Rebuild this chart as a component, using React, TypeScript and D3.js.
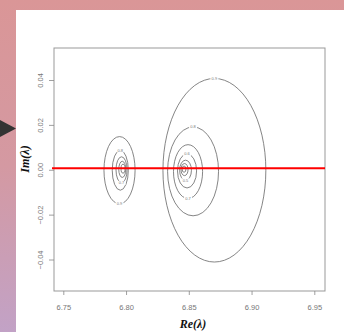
import * as d3 from "d3"

// eje real / imaginario
const reTicks = [6.75, 6.8, 6.85, 6.9, 6.95]
const imTicks = [0.04, 0.02, 0.0, -0.02, -0.04]

// contornos alrededor del autovalor de la derecha
const rightRe = [6.87, 6.853, 6.849, 6.8482, 6.847, 6.8462, 6.8458]
const rightIm = [0, -0.0005, -0.0006, -0.0003, 0, 0.0003, 0.0005]
const rightRadRe = [0.041, 0.0203, 0.0116, 0.0076, 0.0047, 0.0028, 0.0015]
const rightRadIm = [0.0409, 0.0198, 0.012, 0.0076, 0.0045, 0.0027, 0.0014]
const rightLevels = ["0.9", "0.8", "0.7", "0.6", "0.5", "0.4", "0.3"]
const rightLabelPos = ["top", "top", "bottom", "top", "bottom", "top", "bottom"]

// contornos alrededor del autovalor de la izquierda
const leftRe = [6.7944, 6.795, 6.796, 6.7966, 6.7972]
const leftIm = [0, 0, 0.0002, 0.0004, 0.0007]
const leftRadRe = [0.0124, 0.0064, 0.0044, 0.0028, 0.0016]
const leftRadIm = [0.015, 0.0089, 0.0058, 0.0036, 0.002]
const leftLevels = ["0.9", "0.8", "0.7", "0.6", "0.5"]
const leftLabelPos = ["bottom", "top", "bottom", "top", "bottom"]

const redLineIm = 0.0009

export default function App() {
  const W = 344
  const H = 332
  const box = { left: 54, top: 48, right: 325, bottom: 291 }

  const x = d3.scaleLinear().domain([6.75, 6.95]).range([63.8, 314.8])
  const y = d3.scaleLinear().domain([-0.04, 0.04]).range([260, 80.5])

  const contours = [
    ...rightRe.map((re, i) => ({
      re,
      im: rightIm[i],
      rr: rightRadRe[i],
      ri: rightRadIm[i],
      level: rightLevels[i],
      pos: rightLabelPos[i],
    })),
    ...leftRe.map((re, i) => ({
      re,
      im: leftIm[i],
      rr: leftRadRe[i],
      ri: leftRadIm[i],
      level: leftLevels[i],
      pos: leftLabelPos[i],
    })),
  ]

  const pxPerRe = x(1) - x(0)
  const pxPerIm = y(0) - y(1)

  return (
    <svg
      width={W}
      height={H}
      style={{ position: "absolute", left: 0, top: 0, display: "block" }}
    >
      <defs>
        <linearGradient id="bg" x1="0" y1="0" x2="0" y2="1">
          <stop offset="0%" stopColor="#da9697" />
          <stop offset="50%" stopColor="#d499a2" />
          <stop offset="100%" stopColor="#c2a2c6" />
        </linearGradient>
      </defs>
      <rect x={0} y={0} width={W} height={H} fill="url(#bg)" />
      <rect x={16} y={10} width={W - 16} height={H - 10} fill="#ffffff" />

      {/* flecha lateral */}
      <path d="M0,120 L16,128.5 L0,137 Z" fill="#333333" />

      {/* caja */}
      <rect
        x={box.left}
        y={box.top}
        width={box.right - box.left}
        height={box.bottom - box.top}
        fill="none"
        stroke="#999"
        strokeWidth={1}
      />

      {/* eje x */}
      {reTicks.map((t) => (
        <g key={"x" + t}>
          <line x1={x(t)} x2={x(t)} y1={box.bottom} y2={box.bottom + 4} stroke="#888" strokeWidth={0.8} />
          <text
            x={x(t)}
            y={309.5}
            textAnchor="middle"
            fontFamily="Liberation Sans, Arial, sans-serif"
            fontSize={7.5}
            fill="#777"
          >
            {d3.format(".2f")(t)}
          </text>
        </g>
      ))}

      {/* eje y */}
      {imTicks.map((t) => (
        <g key={"y" + t}>
          <line x1={box.left - 5} x2={box.left} y1={y(t)} y2={y(t)} stroke="#888" strokeWidth={0.8} />
          <text
            transform={`translate(42.5,${y(t)}) rotate(-90)`}
            textAnchor="middle"
            fontFamily="Liberation Sans, Arial, sans-serif"
            fontSize={7.5}
            fill="#777"
          >
            {d3.format(".2f")(t)}
          </text>
        </g>
      ))}

      {/* contornos */}
      {contours.map((c, i) => {
        const cx = x(c.re)
        const cy = y(c.im)
        const rx = c.rr * pxPerRe
        const ry = c.ri * pxPerIm
        const ly = c.pos === "top" ? cy - ry : cy + ry
        const small = rx < 5
        return (
          <g key={"c" + i}>
            <ellipse cx={cx} cy={cy} rx={rx} ry={ry} fill="none" stroke="#666" strokeWidth={0.8} />
            {!small && (
              <g>
                <rect x={cx - 4} y={ly - 2} width={8} height={4} fill="#fff" />
                <text
                  x={cx}
                  y={ly + 1.5}
                  textAnchor="middle"
                  fontFamily="Liberation Sans, Arial, sans-serif"
                  fontSize={4}
                  fill="#777"
                >
                  {c.level}
                </text>
              </g>
            )}
          </g>
        )
      })}

      {/* línea roja sobre el eje real */}
      <line
        x1={box.left - 2}
        x2={box.right}
        y1={y(redLineIm)}
        y2={y(redLineIm)}
        stroke="#ff0000"
        strokeWidth={2}
      />

      {/* títulos */}
      <text
        x={193}
        y={327.5}
        textAnchor="middle"
        fontFamily="Liberation Serif, DejaVu Serif, serif"
        fontWeight="bold"
        fontStyle="italic"
        fontSize={12}
        fill="#111"
      >
        Re(λ)
      </text>
      <text
        transform="translate(28.5,159) rotate(-90)"
        textAnchor="middle"
        fontFamily="Liberation Serif, DejaVu Serif, serif"
        fontWeight="bold"
        fontStyle="italic"
        fontSize={12}
        fill="#111"
      >
        Im(λ)
      </text>
    </svg>
  )
}
